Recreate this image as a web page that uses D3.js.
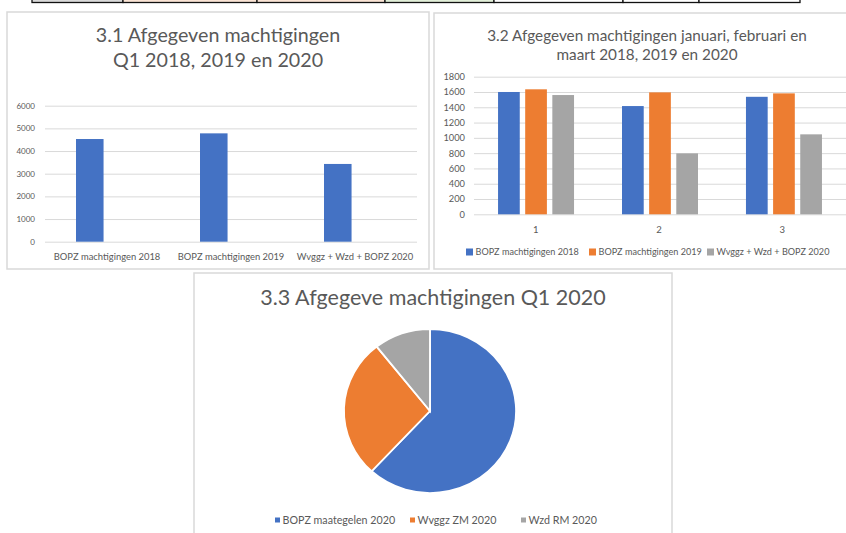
<!DOCTYPE html>
<html>
<head>
<meta charset="utf-8">
<script src="https://cdn.jsdelivr.net/npm/d3@7"></script>
<style>
  html,body{margin:0;padding:0;background:#fff;}
  svg text{font-family:Lato,"Open Sans",sans-serif;fill:#595959;}
</style>
</head>
<body>
<div id="chart"></div>
<script>
// 3.1 – totals Q1
const q1Categories = ["BOPZ machtigingen 2018", "BOPZ machtigingen 2019", "Wvggz + Wzd + BOPZ 2020"];
const q1Values     = [4530, 4780, 3430];
const q1Ticks      = [0, 1000, 2000, 3000, 4000, 5000, 6000];
const q1Slots      = ["Aantal", "(leeg)"];   // tweede reeks in Excel is leeg

// 3.2 – per maand
const months       = ["1", "2", "3"];
const seriesNames  = ["BOPZ machtigingen 2018", "BOPZ machtigingen 2019", "Wvggz + Wzd + BOPZ 2020"];
const bopz2018     = [1600, 1416, 1537];
const bopz2019     = [1635, 1595, 1582];
const wvggz2020    = [1560, 797, 1046];
const monthTicks   = [0, 200, 400, 600, 800, 1000, 1200, 1400, 1600, 1800];

// 3.3 – verdeling Q1 2020
const pieLabels    = ["BOPZ maategelen 2020", "Wvggz ZM 2020", "Wzd RM 2020"];
const pieValues    = [2125, 945, 365];

const colors = ["#4472C4", "#ED7D31", "#A5A5A5"];
const gridCol = "#D9D9D9";

const W = 846, H = 533;
const svg = d3.select("#chart").append("svg").attr("width", W).attr("height", H);
svg.append("rect").attr("width", W).attr("height", H).attr("fill", "#fff");

// tabelrand bovenaan (rest van de tabel valt buiten de uitsnede)
const tableEdges = [32, 123, 257, 385, 494, 623, 699, 800];
const tableFills = ["#D9D9D9", "#FBE4D5", "#FBE4D5", "#E2EFD9", "#fff", "#fff", "#fff"];
svg.append("g").selectAll("rect")
  .data(tableFills).join("rect")
    .attr("x", (d, i) => tableEdges[i])
    .attr("y", -6)
    .attr("width", (d, i) => tableEdges[i + 1] - tableEdges[i])
    .attr("height", 8.5)
    .attr("fill", d => d)
    .attr("stroke", "#111").attr("stroke-width", 1.3);

// kaders
const frames = [[7, 12, 422, 257], [434, 13, 420, 256], [194, 273, 478, 270]];
svg.append("g").selectAll("rect")
  .data(frames).join("rect")
    .attr("x", d => d[0]).attr("y", d => d[1])
    .attr("width", d => d[2]).attr("height", d => d[3])
    .attr("fill", "#fff").attr("stroke", gridCol).attr("stroke-width", 1.5);

function title(lines, cx, y0, size, lh){
  const t = svg.append("text").attr("text-anchor", "middle").attr("font-size", size);
  lines.forEach((l, i) => t.append("tspan").attr("x", cx).attr("y", y0 + i * lh).text(l));
}

function styleGrid(g){
  g.select(".domain").remove();
  g.selectAll(".tick line").attr("stroke", gridCol).attr("stroke-width", 1);
}

function legend(names, xs, y, box, size){
  const g = svg.append("g").selectAll("g")
    .data(names).join("g")
      .attr("transform", (d, i) => `translate(${xs[i]},${y})`);
  g.append("rect").attr("x", 0).attr("y", -box / 2).attr("width", box).attr("height", box)
    .attr("fill", (d, i) => colors[i]);
  g.append("text").attr("x", box + 2.5).attr("dy", "0.35em").attr("font-size", size).text(d => d);
}

// ---------- 3.1 ----------
{
  title(["3.1 Afgegeven machtigingen", "Q1 2018, 2019 en 2020"], 218, 42, 19.7, 25);
  const left = 45, right = 417, bottom = 241.7, top = 105.7;
  const x0 = d3.scaleBand().domain(q1Categories).range([left, right])
    .paddingInner(0.5).paddingOuter(0.25);
  const x1 = d3.scaleBand().domain(q1Slots).range([0, x0.bandwidth()]).paddingInner(0.2);
  const y = d3.scaleLinear().domain([0, 6000]).range([bottom, top]);

  svg.append("g").attr("transform", `translate(${left},0)`)
    .call(d3.axisLeft(y).tickValues(q1Ticks).tickSize(-(right - left)).tickPadding(10).tickFormat(d3.format("d")))
    .call(styleGrid)
    .call(g => g.selectAll("text").attr("font-size", 8).attr("fill", "#595959"));

  svg.append("g").selectAll("rect")
    .data(q1Values).join("rect")
      .attr("x", (d, i) => x0(q1Categories[i]) + x1(q1Slots[0]))
      .attr("y", d => y(d))
      .attr("width", x1.bandwidth())
      .attr("height", d => bottom - y(d))
      .attr("fill", colors[0]);

  const xb = d3.scaleBand().domain(q1Categories).range([left, right]);
  svg.append("g").attr("transform", `translate(0,${bottom})`)
    .call(d3.axisBottom(xb).tickSize(0).tickPadding(12))
    .call(g => g.select(".domain").remove())
    .call(g => g.selectAll("text").attr("font-size", 9.4).attr("fill", "#595959"));
}

// ---------- 3.2 ----------
{
  title(["3.2 Afgegeven machtigingen januari, februari en", "maart 2018, 2019 en 2020"], 647, 40.7, 15.3, 18.8);
  const left = 474, right = 846, bottom = 214.3, top = 76.7;
  const x0 = d3.scaleBand().domain(months).range([left, right])
    .paddingInner(0.387).paddingOuter(0.194);
  const x1 = d3.scaleBand().domain(seriesNames).range([0, x0.bandwidth()]).paddingInner(0.2);
  const y = d3.scaleLinear().domain([0, 1800]).range([bottom, top]);

  svg.append("g").attr("transform", `translate(${left},0)`)
    .call(d3.axisLeft(y).tickValues(monthTicks).tickSize(-(right - left)).tickPadding(9).tickFormat(d3.format("d")))
    .call(styleGrid)
    .call(g => g.selectAll("text").attr("font-size", 9.3).attr("fill", "#595959"));

  const series = [bopz2018, bopz2019, wvggz2020];
  const rows = months.map((m, i) => ({m, vals: series.map((s, k) => ({name: seriesNames[k], k, v: s[i]}))}));

  svg.append("g").selectAll("g")
    .data(rows).join("g")
      .attr("transform", d => `translate(${x0(d.m)},0)`)
    .selectAll("rect")
    .data(d => d.vals).join("rect")
      .attr("x", d => x1(d.name))
      .attr("y", d => y(d.v))
      .attr("width", x1.bandwidth())
      .attr("height", d => bottom - y(d.v))
      .attr("fill", d => colors[d.k]);

  const xb = d3.scaleBand().domain(months).range([left, right - 2]);
  svg.append("g").attr("transform", `translate(0,${bottom})`)
    .call(d3.axisBottom(xb).tickSize(0).tickPadding(12))
    .call(g => g.select(".domain").remove())
    .call(g => g.selectAll("text").attr("font-size", 9.5).attr("fill", "#595959"));

  legend(seriesNames, [466, 589, 707], 252, 7, 9.1);
}

// ---------- 3.3 ----------
{
  title(["3.3 Afgegeve machtigingen Q1 2020"], 433, 305, 21.5, 0);
  const cx = 430, cy = 411, r = 82;
  const pie = d3.pie().sort(null).value(d => d);
  const arc = d3.arc().innerRadius(0).outerRadius(r);
  svg.append("g")
    .attr("transform", `translate(${cx},${cy}) scale(1.05,1)`)
    .selectAll("path")
    .data(pie(pieValues)).join("path")
      .attr("d", arc)
      .attr("fill", (d, i) => colors[i])
      .attr("stroke", "#fff").attr("stroke-width", 1.8);

  legend(pieLabels, [275, 410, 521], 520, 5, 10.7);
}
</script>
</body>
</html>
